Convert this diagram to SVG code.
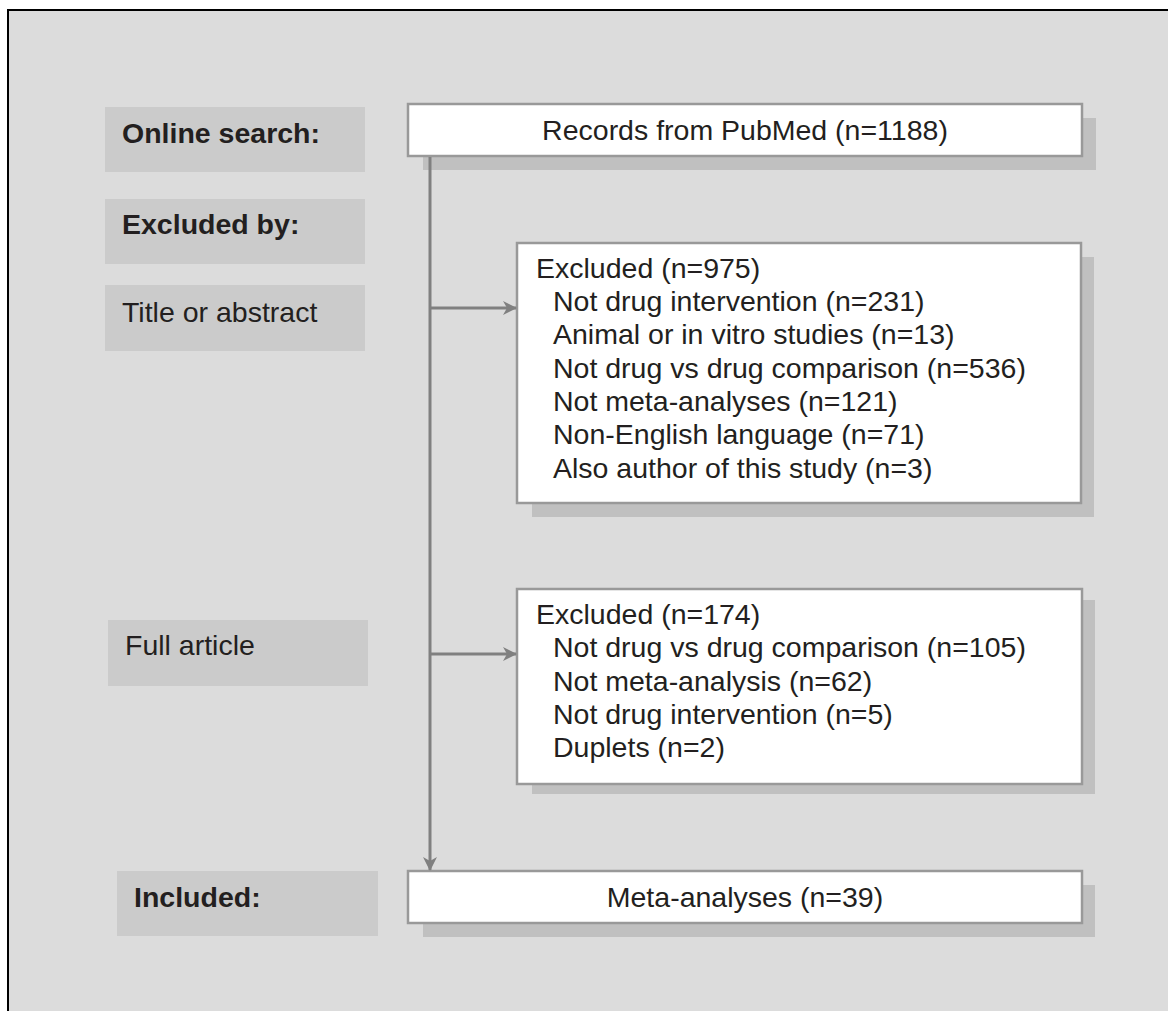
<svg xmlns="http://www.w3.org/2000/svg" width="1168" height="1011" viewBox="0 0 1168 1011">
<defs>
<style>
.t{font-family:"Liberation Sans",Arial,sans-serif;font-size:28.5px;fill:#231f20}
.b{font-weight:bold}
.lab{fill:#cbcbcb}
.sh{fill:#c0c0c0}
.box{fill:#ffffff;stroke:#999999;stroke-width:2.5}
.ln{stroke:#808080;stroke-width:3;fill:none}
</style>
<marker id="ah" viewBox="0 0 14 14" refX="13" refY="7" markerWidth="14" markerHeight="14" markerUnits="userSpaceOnUse" orient="auto">
<path d="M0,0 L14,7 L0,14 L4,7 Z" fill="#808080"/>
</marker>
</defs>
<rect x="0" y="0" width="1168" height="1011" fill="#ffffff"/>
<rect x="8" y="10" width="1200" height="1050" fill="#dcdcdc" stroke="#000000" stroke-width="2"/>

<g id="label-online">
<rect class="lab" x="105" y="107" width="260" height="65"/>
<text class="t b" x="122" y="143">Online search:</text>
</g>
<g id="label-excludedby">
<rect class="lab" x="105" y="199" width="260" height="65"/>
<text class="t b" x="122" y="234">Excluded by:</text>
</g>
<g id="label-title">
<rect class="lab" x="105" y="285" width="260" height="66"/>
<text class="t" x="122" y="322">Title or abstract</text>
</g>
<g id="label-full">
<rect class="lab" x="108" y="620" width="260" height="66"/>
<text class="t" x="125" y="655">Full article</text>
</g>
<g id="label-included">
<rect class="lab" x="117" y="871" width="261" height="65"/>
<text class="t b" x="134" y="907">Included:</text>
</g>

<g id="node-records">
<rect class="sh" x="423" y="118" width="673" height="52"/>
<rect class="box" x="408" y="104" width="674" height="52"/>
<text class="t" x="745" y="140" text-anchor="middle">Records from PubMed (n=1188)</text>
</g>

<g id="node-excluded1">
<rect class="sh" x="532" y="257" width="562" height="260"/>
<rect class="box" x="517" y="243" width="564" height="260"/>
<text class="t" x="536" y="278">Excluded (n=975)</text>
<text class="t" x="553" y="311">Not drug intervention (n=231)</text>
<text class="t" x="553" y="344">Animal or in vitro studies (n=13)</text>
<text class="t" x="553" y="378">Not drug vs drug comparison (n=536)</text>
<text class="t" x="553" y="411">Not meta-analyses (n=121)</text>
<text class="t" x="553" y="444">Non-English language (n=71)</text>
<text class="t" x="553" y="478">Also author of this study (n=3)</text>
</g>

<g id="node-excluded2">
<rect class="sh" x="532" y="600" width="563" height="194"/>
<rect class="box" x="517" y="589" width="565" height="195"/>
<text class="t" x="536" y="624">Excluded (n=174)</text>
<text class="t" x="553" y="657">Not drug vs drug comparison (n=105)</text>
<text class="t" x="553" y="691">Not meta-analysis (n=62)</text>
<text class="t" x="553" y="724">Not drug intervention (n=5)</text>
<text class="t" x="553" y="757">Duplets (n=2)</text>
</g>

<g id="node-included">
<rect class="sh" x="423" y="885" width="672" height="52"/>
<rect class="box" x="408" y="871" width="674" height="52"/>
<text class="t" x="745" y="907" text-anchor="middle">Meta-analyses (n=39)</text>
</g>

<g id="connectors">
<line class="ln" x1="430" y1="157" x2="430" y2="870" marker-end="url(#ah)"/>
<line class="ln" x1="430" y1="308" x2="516" y2="308" marker-end="url(#ah)"/>
<line class="ln" x1="430" y1="654" x2="516" y2="654" marker-end="url(#ah)"/>
</g>
</svg>
